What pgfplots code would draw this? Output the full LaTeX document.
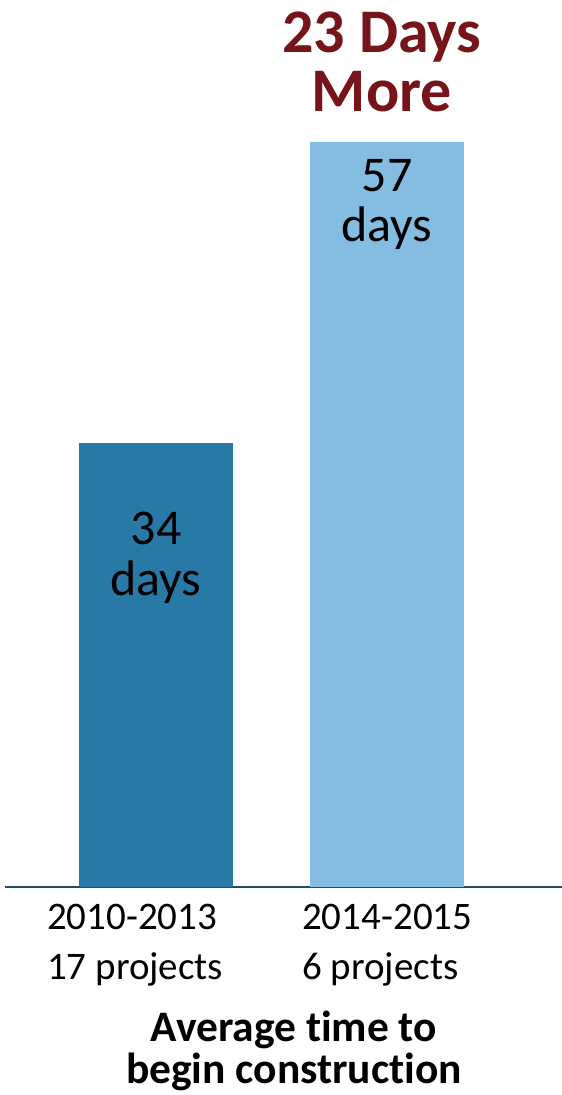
\documentclass[border=0pt]{standalone}
\usepackage{pgfplots}
\pgfplotsset{compat=1.18}
\usepackage{fontspec}
\setmainfont{Carlito}[Ligatures={NoCommon}]

\definecolor{darkbar}{RGB}{41,121,167}
\definecolor{lightbar}{RGB}{133,188,225}
\definecolor{titlered}{RGB}{118,20,26}
\definecolor{baseline}{RGB}{31,78,105}

\begin{document}
\begin{tikzpicture}[x=1pt,y=1pt]
  \useasboundingbox (0,0) rectangle (562,1095);
  \begin{axis}[
      at={(5pt,208pt)}, anchor=south west,
      scale only axis,
      width=557pt, height=784pt,
      xmin=5, xmax=562,
      ymin=0, ymax=60,
      axis x line=bottom,
      axis y line=none,
      x axis line style={-, color=baseline, line width=2pt},
      xtick=\empty, ytick=\empty,
      clip=false,
    ]
    % average days to begin construction
    \addplot[ybar, bar width=154, bar shift=0pt, fill=darkbar, draw=none]
      coordinates {(156,34)};
    \addplot[ybar, bar width=154, bar shift=0pt, fill=lightbar, draw=none]
      coordinates {(387,57)};
  \end{axis}

  % labels in the bars
  \begin{scope}[every node/.style={font=\fontsize{50}{50}\selectfont, anchor=base, inner sep=0pt}]
    \node at (156,550) {34};
    \node at (156,499) {days};
    \node at (387,903) {57};
    \node at (387,853) {days};
  \end{scope}

  % headline
  \begin{scope}[every node/.style={font=\bfseries\fontsize{62}{62}\selectfont, text=titlered, anchor=base, inner sep=0pt}]
    \node at (382,1042) {23 Days};
    \node at (382,983) {More};
  \end{scope}

  % category labels
  \begin{scope}[every node/.style={font=\fontsize{39}{39}\selectfont, anchor=base west, inner sep=0pt}]
    \node at (47,165) {2010-2013};
    \node at (47,115) {17 projects};
    \node at (302,165) {2014-2015};
    \node at (302,115) {6 projects};
  \end{scope}

  % axis caption
  \begin{scope}[every node/.style={font=\bfseries\fontsize{43.5}{43.5}\selectfont, anchor=base, inner sep=0pt}]
    \node at (294,53) {Average time to};
    \node at (294,12) {begin construction};
  \end{scope}
\end{tikzpicture}
\end{document}
